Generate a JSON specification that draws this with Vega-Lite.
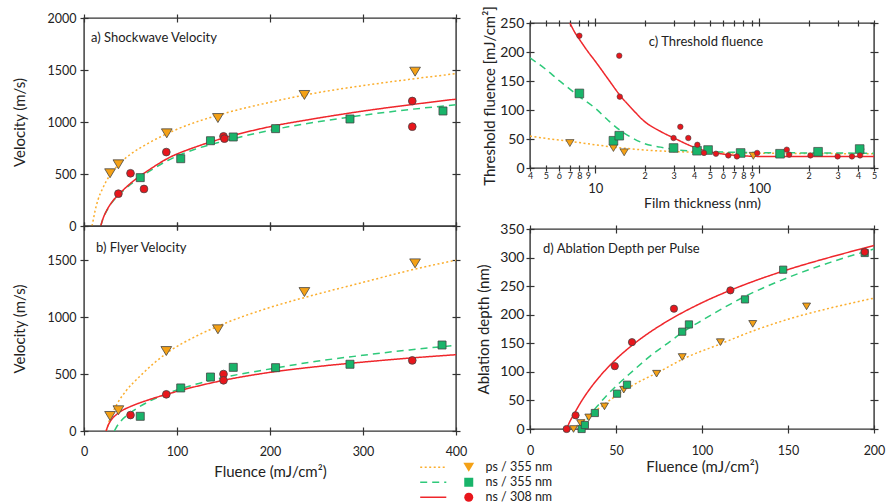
{
 "$schema": "https://vega.github.io/schema/vega-lite/v6.json",
 "padding": {"left": 11, "top": 5, "right": 0, "bottom": 0},
 "background": "white",
 "config": {
  "font": "Lato",
  "view": {"stroke": "#333", "strokeWidth": 1.4},
  "axis": {"domain": false, "grid": false, "tickColor": "#333", "tickWidth": 1.2, "tickSize": 8, "offset": -4, "labelFont": "Lato", "labelFontSize": 12.5, "labelColor": "#222", "labelPadding": 4, "labelFlush": false, "labelOverlap": false, "titleFont": "Lato", "titleFontSize": 15, "titleFontWeight": "normal", "titleColor": "#222"},
  "title": {"anchor": "start", "frame": "group", "font": "Lato", "fontSize": 13, "fontWeight": "normal", "color": "#222"}
 },
 "datasets": {
  "aLines": [
   {"F":8.6,"V":0,"s":"ps / 355 nm"},{"F":10,"V":60,"s":"ps / 355 nm"},{"F":12,"V":150,"s":"ps / 355 nm"},{"F":15,"V":250,"s":"ps / 355 nm"},{"F":20,"V":360,"s":"ps / 355 nm"},{"F":28,"V":490,"s":"ps / 355 nm"},{"F":37,"V":590,"s":"ps / 355 nm"},{"F":50,"V":690,"s":"ps / 355 nm"},{"F":70,"V":800,"s":"ps / 355 nm"},{"F":100,"V":930,"s":"ps / 355 nm"},{"F":150,"V":1080,"s":"ps / 355 nm"},{"F":200,"V":1190,"s":"ps / 355 nm"},{"F":250,"V":1280,"s":"ps / 355 nm"},{"F":300,"V":1350,"s":"ps / 355 nm"},{"F":350,"V":1410,"s":"ps / 355 nm"},{"F":400,"V":1465,"s":"ps / 355 nm"},
   {"F":18,"V":0,"s":"ns / 355 nm"},{"F":20,"V":60,"s":"ns / 355 nm"},{"F":25,"V":155,"s":"ns / 355 nm"},{"F":30,"V":225,"s":"ns / 355 nm"},{"F":37,"V":295,"s":"ns / 355 nm"},{"F":50,"V":400,"s":"ns / 355 nm"},{"F":70,"V":525,"s":"ns / 355 nm"},{"F":90,"V":630,"s":"ns / 355 nm"},{"F":120,"V":740,"s":"ns / 355 nm"},{"F":150,"V":815,"s":"ns / 355 nm"},{"F":200,"V":920,"s":"ns / 355 nm"},{"F":250,"V":1000,"s":"ns / 355 nm"},{"F":300,"V":1065,"s":"ns / 355 nm"},{"F":350,"V":1120,"s":"ns / 355 nm"},{"F":400,"V":1165,"s":"ns / 355 nm"},
   {"F":18,"V":0,"s":"ns / 308 nm"},{"F":20,"V":60,"s":"ns / 308 nm"},{"F":25,"V":160,"s":"ns / 308 nm"},{"F":30,"V":230,"s":"ns / 308 nm"},{"F":37,"V":300,"s":"ns / 308 nm"},{"F":50,"V":410,"s":"ns / 308 nm"},{"F":70,"V":540,"s":"ns / 308 nm"},{"F":90,"V":650,"s":"ns / 308 nm"},{"F":120,"V":760,"s":"ns / 308 nm"},{"F":150,"V":845,"s":"ns / 308 nm"},{"F":200,"V":955,"s":"ns / 308 nm"},{"F":250,"V":1035,"s":"ns / 308 nm"},{"F":300,"V":1105,"s":"ns / 308 nm"},{"F":350,"V":1165,"s":"ns / 308 nm"},{"F":400,"V":1220,"s":"ns / 308 nm"}
  ],
  "aPts": [
   {"F":28,"V":507,"s":"ps / 355 nm"},{"F":37,"V":593,"s":"ps / 355 nm"},{"F":89,"V":891,"s":"ps / 355 nm"},{"F":144,"V":1038,"s":"ps / 355 nm"},{"F":237,"V":1260,"s":"ps / 355 nm"},{"F":356,"V":1484,"s":"ps / 355 nm"},
   {"F":60.5,"V":465,"s":"ns / 355 nm"},{"F":104,"V":647,"s":"ns / 355 nm"},{"F":136,"V":820,"s":"ns / 355 nm"},{"F":160.5,"V":856,"s":"ns / 355 nm"},{"F":206,"V":936,"s":"ns / 355 nm"},{"F":286,"V":1029,"s":"ns / 355 nm"},{"F":386,"V":1106,"s":"ns / 355 nm"},
   {"F":37,"V":311,"s":"ns / 308 nm"},{"F":50,"V":507,"s":"ns / 308 nm"},{"F":64.5,"V":356,"s":"ns / 308 nm"},{"F":88.5,"V":711,"s":"ns / 308 nm"},{"F":150,"V":862,"s":"ns / 308 nm"},{"F":151,"V":840,"s":"ns / 308 nm"},{"F":353,"V":1202,"s":"ns / 308 nm"},{"F":353,"V":955,"s":"ns / 308 nm"}
  ],
  "bLines": [
   {"F":24,"V":0,"s":"ps / 355 nm"},{"F":28,"V":110,"s":"ps / 355 nm"},{"F":35,"V":230,"s":"ps / 355 nm"},{"F":45,"V":350,"s":"ps / 355 nm"},{"F":60,"V":480,"s":"ps / 355 nm"},{"F":90,"V":690,"s":"ps / 355 nm"},{"F":120,"V":830,"s":"ps / 355 nm"},{"F":150,"V":940,"s":"ps / 355 nm"},{"F":200,"V":1085,"s":"ps / 355 nm"},{"F":250,"V":1200,"s":"ps / 355 nm"},{"F":300,"V":1305,"s":"ps / 355 nm"},{"F":350,"V":1410,"s":"ps / 355 nm"},{"F":400,"V":1500,"s":"ps / 355 nm"},
   {"F":32.6,"V":0,"s":"ns / 355 nm"},{"F":35,"V":35,"s":"ns / 355 nm"},{"F":40,"V":90,"s":"ns / 355 nm"},{"F":50,"V":160,"s":"ns / 355 nm"},{"F":70,"V":260,"s":"ns / 355 nm"},{"F":90,"V":330,"s":"ns / 355 nm"},{"F":100,"V":360,"s":"ns / 355 nm"},{"F":120,"V":410,"s":"ns / 355 nm"},{"F":150,"V":470,"s":"ns / 355 nm"},{"F":200,"V":545,"s":"ns / 355 nm"},{"F":250,"V":612,"s":"ns / 355 nm"},{"F":300,"V":665,"s":"ns / 355 nm"},{"F":350,"V":712,"s":"ns / 355 nm"},{"F":400,"V":752,"s":"ns / 355 nm"},
   {"F":23.7,"V":0,"s":"ns / 308 nm"},{"F":26,"V":50,"s":"ns / 308 nm"},{"F":30,"V":105,"s":"ns / 308 nm"},{"F":35,"V":145,"s":"ns / 308 nm"},{"F":40,"V":175,"s":"ns / 308 nm"},{"F":50,"V":215,"s":"ns / 308 nm"},{"F":70,"V":275,"s":"ns / 308 nm"},{"F":90,"V":325,"s":"ns / 308 nm"},{"F":120,"V":390,"s":"ns / 308 nm"},{"F":150,"V":445,"s":"ns / 308 nm"},{"F":200,"V":515,"s":"ns / 308 nm"},{"F":250,"V":565,"s":"ns / 308 nm"},{"F":300,"V":605,"s":"ns / 308 nm"},{"F":350,"V":640,"s":"ns / 308 nm"},{"F":400,"V":670,"s":"ns / 308 nm"}
  ],
  "bPts": [
   {"F":28,"V":132,"s":"ps / 355 nm"},{"F":37,"V":182,"s":"ps / 355 nm"},{"F":88.5,"V":702,"s":"ps / 355 nm"},{"F":144,"V":893,"s":"ps / 355 nm"},{"F":237,"V":1220,"s":"ps / 355 nm"},{"F":356,"V":1472,"s":"ps / 355 nm"},
   {"F":60.5,"V":129,"s":"ns / 355 nm"},{"F":104,"V":378,"s":"ns / 355 nm"},{"F":136,"V":474,"s":"ns / 355 nm"},{"F":160.5,"V":559,"s":"ns / 355 nm"},{"F":206,"V":556,"s":"ns / 355 nm"},{"F":286,"V":586,"s":"ns / 355 nm"},{"F":385,"V":755,"s":"ns / 355 nm"},
   {"F":50,"V":140,"s":"ns / 308 nm"},{"F":88.5,"V":322,"s":"ns / 308 nm"},{"F":150,"V":500,"s":"ns / 308 nm"},{"F":150,"V":445,"s":"ns / 308 nm"},{"F":353,"V":620,"s":"ns / 308 nm"}
  ],
  "cLines": [
   {"t":4,"v":55,"s":"ps / 355 nm"},{"t":5,"v":51,"s":"ps / 355 nm"},{"t":7,"v":46,"s":"ps / 355 nm"},{"t":10,"v":40,"s":"ps / 355 nm"},{"t":14,"v":35,"s":"ps / 355 nm"},{"t":20,"v":31,"s":"ps / 355 nm"},{"t":30,"v":28.5,"s":"ps / 355 nm"},{"t":50,"v":26.5,"s":"ps / 355 nm"},{"t":100,"v":25.5,"s":"ps / 355 nm"},{"t":200,"v":25,"s":"ps / 355 nm"},{"t":500,"v":24.5,"s":"ps / 355 nm"},
   {"t":4,"v":190,"s":"ns / 355 nm"},{"t":5,"v":170,"s":"ns / 355 nm"},{"t":6,"v":151,"s":"ns / 355 nm"},{"t":7,"v":136,"s":"ns / 355 nm"},{"t":8,"v":123,"s":"ns / 355 nm"},{"t":10,"v":103,"s":"ns / 355 nm"},{"t":12,"v":82,"s":"ns / 355 nm"},{"t":14,"v":66,"s":"ns / 355 nm"},{"t":17,"v":51,"s":"ns / 355 nm"},{"t":20,"v":42,"s":"ns / 355 nm"},{"t":25,"v":36,"s":"ns / 355 nm"},{"t":30,"v":32,"s":"ns / 355 nm"},{"t":40,"v":29,"s":"ns / 355 nm"},{"t":50,"v":28,"s":"ns / 355 nm"},{"t":100,"v":26.5,"s":"ns / 355 nm"},{"t":200,"v":26,"s":"ns / 355 nm"},{"t":500,"v":25.5,"s":"ns / 355 nm"},
   {"t":7,"v":250,"s":"ns / 308 nm"},{"t":7.5,"v":234,"s":"ns / 308 nm"},{"t":8,"v":222,"s":"ns / 308 nm"},{"t":9,"v":201,"s":"ns / 308 nm"},{"t":10,"v":184,"s":"ns / 308 nm"},{"t":12,"v":153,"s":"ns / 308 nm"},{"t":14,"v":127,"s":"ns / 308 nm"},{"t":17,"v":100,"s":"ns / 308 nm"},{"t":20,"v":80,"s":"ns / 308 nm"},{"t":25,"v":63,"s":"ns / 308 nm"},{"t":30,"v":52,"s":"ns / 308 nm"},{"t":40,"v":36,"s":"ns / 308 nm"},{"t":50,"v":28,"s":"ns / 308 nm"},{"t":60,"v":24,"s":"ns / 308 nm"},{"t":80,"v":21,"s":"ns / 308 nm"},{"t":100,"v":20,"s":"ns / 308 nm"},{"t":200,"v":20,"s":"ns / 308 nm"},{"t":500,"v":20,"s":"ns / 308 nm"}
  ],
  "cPts": [
   {"t":7,"v":43,"s":"ps / 355 nm"},{"t":12.9,"v":34.5,"s":"ps / 355 nm"},{"t":15,"v":27,"s":"ps / 355 nm"},{"t":91.9,"v":21,"s":"ps / 355 nm"},{"t":411,"v":27,"s":"ps / 355 nm"},
   {"t":8,"v":128.6,"s":"ns / 355 nm"},{"t":12.9,"v":47,"s":"ns / 355 nm"},{"t":14,"v":55.7,"s":"ns / 355 nm"},{"t":30,"v":34.5,"s":"ns / 355 nm"},{"t":41.7,"v":29.8,"s":"ns / 355 nm"},{"t":48.7,"v":31,"s":"ns / 355 nm"},{"t":76.9,"v":25.9,"s":"ns / 355 nm"},{"t":133.7,"v":24.6,"s":"ns / 355 nm"},{"t":228,"v":28,"s":"ns / 355 nm"},{"t":409,"v":32.7,"s":"ns / 355 nm"},
   {"t":8,"v":228,"s":"ns / 308 nm"},{"t":14,"v":193.6,"s":"ns / 308 nm"},{"t":14.1,"v":123,"s":"ns / 308 nm"},{"t":30,"v":51.7,"s":"ns / 308 nm"},{"t":33,"v":71,"s":"ns / 308 nm"},{"t":36.9,"v":51.7,"s":"ns / 308 nm"},{"t":41.9,"v":40,"s":"ns / 308 nm"},{"t":46,"v":26,"s":"ns / 308 nm"},{"t":54.4,"v":24.6,"s":"ns / 308 nm"},{"t":64.7,"v":21.7,"s":"ns / 308 nm"},{"t":73,"v":20,"s":"ns / 308 nm"},{"t":97,"v":26,"s":"ns / 308 nm"},{"t":147,"v":31.6,"s":"ns / 308 nm"},{"t":152,"v":23,"s":"ns / 308 nm"},{"t":205,"v":21.7,"s":"ns / 308 nm"},{"t":300,"v":20,"s":"ns / 308 nm"},{"t":367,"v":20,"s":"ns / 308 nm"},{"t":411,"v":21.7,"s":"ns / 308 nm"}
  ],
  "dLines": [
   {"F":25,"D":0,"s":"ps / 355 nm"},{"F":28,"D":7,"s":"ps / 355 nm"},{"F":30,"D":12,"s":"ps / 355 nm"},{"F":35,"D":24,"s":"ps / 355 nm"},{"F":40,"D":36,"s":"ps / 355 nm"},{"F":50,"D":58,"s":"ps / 355 nm"},{"F":60,"D":77,"s":"ps / 355 nm"},{"F":75,"D":100,"s":"ps / 355 nm"},{"F":90,"D":124,"s":"ps / 355 nm"},{"F":110,"D":148,"s":"ps / 355 nm"},{"F":130,"D":172,"s":"ps / 355 nm"},{"F":150,"D":192,"s":"ps / 355 nm"},{"F":175,"D":212,"s":"ps / 355 nm"},{"F":200,"D":229,"s":"ps / 355 nm"},
   {"F":29,"D":0,"s":"ns / 355 nm"},{"F":32,"D":12,"s":"ns / 355 nm"},{"F":35,"D":25,"s":"ns / 355 nm"},{"F":40,"D":43,"s":"ns / 355 nm"},{"F":45,"D":60,"s":"ns / 355 nm"},{"F":50,"D":75,"s":"ns / 355 nm"},{"F":60,"D":102,"s":"ns / 355 nm"},{"F":70,"D":128,"s":"ns / 355 nm"},{"F":80,"D":150,"s":"ns / 355 nm"},{"F":90,"D":172,"s":"ns / 355 nm"},{"F":100,"D":190,"s":"ns / 355 nm"},{"F":125,"D":232,"s":"ns / 355 nm"},{"F":150,"D":265,"s":"ns / 355 nm"},{"F":175,"D":292,"s":"ns / 355 nm"},{"F":200,"D":315,"s":"ns / 355 nm"},
   {"F":21.3,"D":0,"s":"ns / 308 nm"},{"F":23,"D":12,"s":"ns / 308 nm"},{"F":25,"D":23,"s":"ns / 308 nm"},{"F":30,"D":49,"s":"ns / 308 nm"},{"F":35,"D":71,"s":"ns / 308 nm"},{"F":40,"D":90,"s":"ns / 308 nm"},{"F":50,"D":122,"s":"ns / 308 nm"},{"F":60,"D":148,"s":"ns / 308 nm"},{"F":70,"D":170,"s":"ns / 308 nm"},{"F":80,"D":189,"s":"ns / 308 nm"},{"F":100,"D":221,"s":"ns / 308 nm"},{"F":120,"D":247,"s":"ns / 308 nm"},{"F":150,"D":279,"s":"ns / 308 nm"},{"F":175,"D":301,"s":"ns / 308 nm"},{"F":200,"D":321,"s":"ns / 308 nm"}
  ],
  "dPts": [
   {"F":25.3,"D":0,"s":"ps / 355 nm"},{"F":29.4,"D":10.5,"s":"ps / 355 nm"},{"F":34.2,"D":20.3,"s":"ps / 355 nm"},{"F":43.3,"D":39.6,"s":"ps / 355 nm"},{"F":54.5,"D":68.8,"s":"ps / 355 nm"},{"F":73.6,"D":96.8,"s":"ps / 355 nm"},{"F":88.5,"D":126,"s":"ps / 355 nm"},{"F":110.7,"D":152,"s":"ps / 355 nm"},{"F":129.5,"D":184,"s":"ps / 355 nm"},{"F":160.8,"D":214.6,"s":"ps / 355 nm"},
   {"F":30,"D":0,"s":"ns / 355 nm"},{"F":31.9,"D":7,"s":"ns / 355 nm"},{"F":37.7,"D":28,"s":"ns / 355 nm"},{"F":50.6,"D":61.8,"s":"ns / 355 nm"},{"F":56.4,"D":77.5,"s":"ns / 355 nm"},{"F":88.5,"D":170.3,"s":"ns / 355 nm"},{"F":92.4,"D":183,"s":"ns / 355 nm"},{"F":125,"D":226.8,"s":"ns / 355 nm"},{"F":147.2,"D":278.8,"s":"ns / 355 nm"},{"F":194.6,"D":308,"s":"ns / 355 nm"},
   {"F":21.3,"D":0,"s":"ns / 308 nm"},{"F":26.5,"D":24,"s":"ns / 308 nm"},{"F":49.3,"D":110,"s":"ns / 308 nm"},{"F":59.3,"D":152,"s":"ns / 308 nm"},{"F":83.7,"D":210.5,"s":"ns / 308 nm"},{"F":116.5,"D":242.6,"s":"ns / 308 nm"},{"F":194.6,"D":309.8,"s":"ns / 308 nm"}
  ]
 },
 "spacing": 7,
 "hconcat": [
  {
   "spacing": 0,
   "bounds": "flush",
   "vconcat": [
    {
     "width": 372, "height": 208,
     "title": {"text": "a) Shockwave Velocity", "dx": 7, "offset": -33},
     "resolve": {"axis": {"x": "independent", "y": "independent"}},
     "layer": [
      {"data": {"name": "aLines"}, "mark": {"type": "line", "strokeWidth": 1.5, "interpolate": "monotone", "clip": true},
       "encoding": {
        "x": {"field": "F", "type": "quantitative", "scale": {"domain": [0, 400], "nice": false, "zero": false}, "axis": {"orient": "bottom", "values": [0, 100, 200, 300, 400], "labels": false, "title": null}},
        "y": {"field": "V", "type": "quantitative", "scale": {"domain": [0, 2000], "nice": false}, "axis": {"orient": "left", "values": [0, 500, 1000, 1500, 2000], "format": "d", "title": "Velocity (m/s)", "titlePadding": 20}},
        "stroke": {"field": "s", "type": "nominal", "sort": "descending", "scale": {"range": ["#FBAE2E", "#2EC97A", "#EF262B"]}, "legend": {"orient": "none", "legendX": 343, "legendY": 443, "title": null, "symbolType": "M-2.9,0H2.9", "symbolSize": 81, "symbolStrokeWidth": 1.5, "labelExpr": "' '", "labelFont": "Lato", "labelFontSize": 12.5, "rowPadding": 2, "padding": 0, "labelOffset": 10.5}},
        "strokeDash": {"field": "s", "type": "nominal", "sort": "descending", "scale": {"range": [[2, 2.5], [7, 5], [1, 0]]}, "legend": {"orient": "none", "legendX": 343, "legendY": 443, "title": null, "symbolType": "M-2.9,0H2.9", "symbolSize": 81, "symbolStrokeWidth": 1.5, "labelExpr": "' '", "labelFont": "Lato", "labelFontSize": 12.5, "rowPadding": 2, "padding": 0, "labelOffset": 10.5}}
       }},
      {"data": {"name": "aPts"}, "transform": [{"filter": "datum.s == 'ps / 355 nm'"}], "mark": {"type": "point", "filled": true, "stroke": "#444", "strokeWidth": 0.8, "size": 80, "opacity": 1},
       "encoding": {
        "x": {"field": "F", "type": "quantitative", "scale": {"domain": [0, 400], "nice": false, "zero": false}, "axis": {"orient": "top", "values": [0, 100, 200, 300, 400], "labels": false, "title": null}},
        "y": {"field": "V", "type": "quantitative", "scale": {"domain": [0, 2000], "nice": false}, "axis": {"orient": "right", "values": [0, 500, 1000, 1500, 2000], "labels": false, "title": null}},
        "fill": {"field": "s", "type": "nominal", "scale": {"domain": ["ps / 355 nm", "ns / 355 nm", "ns / 308 nm"], "range": ["#F4A116", "#19B46A", "#E8161C"]}, "legend": {"orient": "none", "legendX": 378.5, "legendY": 443, "title": null, "symbolSize": 81, "symbolStrokeColor": "#444", "symbolStrokeWidth": 0.8, "labelFont": "Lato", "labelFontSize": 12.5, "labelColor": "#222", "rowPadding": 2, "padding": 0, "labelOffset": 10.5}},
        "shape": {"field": "s", "type": "nominal", "scale": {"domain": ["ps / 355 nm", "ns / 355 nm", "ns / 308 nm"], "range": ["M-1.2,-1L1.2,-1L0,1Z", "square", "circle"]}, "legend": {"orient": "none", "legendX": 378.5, "legendY": 443, "title": null, "symbolSize": 81, "symbolStrokeColor": "#444", "symbolStrokeWidth": 0.8, "labelFont": "Lato", "labelFontSize": 12.5, "labelColor": "#222", "rowPadding": 2, "padding": 0, "labelOffset": 10.5}}
       }},
      {"data": {"name": "aPts"}, "transform": [{"filter": "datum.s == 'ns / 355 nm'"}], "mark": {"type": "point", "filled": true, "stroke": "#444", "strokeWidth": 0.8, "size": 64, "opacity": 1},
       "encoding": {
        "x": {"field": "F", "type": "quantitative", "scale": {"domain": [0, 400], "nice": false, "zero": false}, "axis": null},
        "y": {"field": "V", "type": "quantitative", "scale": {"domain": [0, 2000], "nice": false}, "axis": null},
        "fill": {"field": "s", "type": "nominal", "scale": {"domain": ["ps / 355 nm", "ns / 355 nm", "ns / 308 nm"], "range": ["#F4A116", "#19B46A", "#E8161C"]}},
        "shape": {"field": "s", "type": "nominal", "scale": {"domain": ["ps / 355 nm", "ns / 355 nm", "ns / 308 nm"], "range": ["M-1.2,-1L1.2,-1L0,1Z", "square", "circle"]}}
       }},
      {"data": {"name": "aPts"}, "transform": [{"filter": "datum.s == 'ns / 308 nm'"}], "mark": {"type": "point", "filled": true, "stroke": "#444", "strokeWidth": 0.8, "size": 60, "opacity": 1},
       "encoding": {
        "x": {"field": "F", "type": "quantitative", "scale": {"domain": [0, 400], "nice": false, "zero": false}, "axis": null},
        "y": {"field": "V", "type": "quantitative", "scale": {"domain": [0, 2000], "nice": false}, "axis": null},
        "fill": {"field": "s", "type": "nominal", "scale": {"domain": ["ps / 355 nm", "ns / 355 nm", "ns / 308 nm"], "range": ["#F4A116", "#19B46A", "#E8161C"]}},
        "shape": {"field": "s", "type": "nominal", "scale": {"domain": ["ps / 355 nm", "ns / 355 nm", "ns / 308 nm"], "range": ["M-1.2,-1L1.2,-1L0,1Z", "square", "circle"]}}
       }}
     ]
    },
    {
     "width": 372, "height": 205,
     "title": {"text": "b) Flyer Velocity", "dx": 12, "offset": -33.5},
     "resolve": {"axis": {"x": "independent", "y": "independent"}},
     "layer": [
      {"data": {"name": "bLines"}, "mark": {"type": "line", "strokeWidth": 1.5, "interpolate": "monotone", "clip": true},
       "encoding": {
        "x": {"field": "F", "type": "quantitative", "scale": {"domain": [0, 400], "nice": false, "zero": false}, "axis": {"orient": "bottom", "values": [0, 100, 200, 300, 400], "labelPadding": 10, "title": "Fluence (mJ/cm²)", "titlePadding": 7}},
        "y": {"field": "V", "type": "quantitative", "scale": {"domain": [0, 1800], "nice": false}, "axis": {"orient": "left", "values": [0, 500, 1000, 1500], "format": "d", "title": "Velocity (m/s)", "titlePadding": 20}},
        "stroke": {"field": "s", "type": "nominal", "sort": "descending", "scale": {"range": ["#FBAE2E", "#2EC97A", "#EF262B"]}},
        "strokeDash": {"field": "s", "type": "nominal", "sort": "descending", "scale": {"range": [[2, 2.5], [7, 5], [1, 0]]}}
       }},
      {"data": {"name": "bPts"}, "transform": [{"filter": "datum.s == 'ps / 355 nm'"}], "mark": {"type": "point", "filled": true, "stroke": "#444", "strokeWidth": 0.8, "size": 80, "opacity": 1},
       "encoding": {
        "x": {"field": "F", "type": "quantitative", "scale": {"domain": [0, 400], "nice": false, "zero": false}, "axis": {"orient": "top", "values": [0, 100, 200, 300, 400], "labels": false, "title": null}},
        "y": {"field": "V", "type": "quantitative", "scale": {"domain": [0, 1800], "nice": false}, "axis": {"orient": "right", "values": [0, 500, 1000, 1500], "labels": false, "title": null}},
        "fill": {"field": "s", "type": "nominal", "scale": {"domain": ["ps / 355 nm", "ns / 355 nm", "ns / 308 nm"], "range": ["#F4A116", "#19B46A", "#E8161C"]}},
        "shape": {"field": "s", "type": "nominal", "scale": {"domain": ["ps / 355 nm", "ns / 355 nm", "ns / 308 nm"], "range": ["M-1.2,-1L1.2,-1L0,1Z", "square", "circle"]}}
       }},
      {"data": {"name": "bPts"}, "transform": [{"filter": "datum.s == 'ns / 355 nm'"}], "mark": {"type": "point", "filled": true, "stroke": "#444", "strokeWidth": 0.8, "size": 64, "opacity": 1},
       "encoding": {
        "x": {"field": "F", "type": "quantitative", "scale": {"domain": [0, 400], "nice": false, "zero": false}, "axis": null},
        "y": {"field": "V", "type": "quantitative", "scale": {"domain": [0, 1800], "nice": false}, "axis": null},
        "fill": {"field": "s", "type": "nominal", "scale": {"domain": ["ps / 355 nm", "ns / 355 nm", "ns / 308 nm"], "range": ["#F4A116", "#19B46A", "#E8161C"]}},
        "shape": {"field": "s", "type": "nominal", "scale": {"domain": ["ps / 355 nm", "ns / 355 nm", "ns / 308 nm"], "range": ["M-1.2,-1L1.2,-1L0,1Z", "square", "circle"]}}
       }},
      {"data": {"name": "bPts"}, "transform": [{"filter": "datum.s == 'ns / 308 nm'"}], "mark": {"type": "point", "filled": true, "stroke": "#444", "strokeWidth": 0.8, "size": 60, "opacity": 1},
       "encoding": {
        "x": {"field": "F", "type": "quantitative", "scale": {"domain": [0, 400], "nice": false, "zero": false}, "axis": null},
        "y": {"field": "V", "type": "quantitative", "scale": {"domain": [0, 1800], "nice": false}, "axis": null},
        "fill": {"field": "s", "type": "nominal", "scale": {"domain": ["ps / 355 nm", "ns / 355 nm", "ns / 308 nm"], "range": ["#F4A116", "#19B46A", "#E8161C"]}},
        "shape": {"field": "s", "type": "nominal", "scale": {"domain": ["ps / 355 nm", "ns / 355 nm", "ns / 308 nm"], "range": ["M-1.2,-1L1.2,-1L0,1Z", "square", "circle"]}}
       }}
     ]
    }
   ]
  },
  {
   "spacing": 0,
   "bounds": "flush",
   "vconcat": [
    {"width": 344, "height": 5, "data": {"values": []}, "mark": "point", "view": {"stroke": null}},
    {
     "spacing": 61,
     "bounds": "flush",
     "vconcat": [
      {
       "width": 344, "height": 145,
       "title": {"text": "c) Threshold fluence", "anchor": "middle", "dx": 4, "offset": -43},
       "resolve": {"axis": {"x": "independent", "y": "independent"}},
       "layer": [
        {"data": {"name": "cLines"}, "mark": {"type": "line", "strokeWidth": 1.5, "interpolate": "monotone", "clip": true},
         "encoding": {
          "x": {"field": "t", "type": "quantitative", "scale": {"type": "log", "domain": [4, 500], "nice": false}, "axis": {"orient": "bottom", "offset": -3, "values": [4, 5, 6, 7, 8, 9, 10, 20, 30, 40, 50, 60, 70, 80, 90, 100, 200, 300, 400, 500], "labelExpr": "datum.value == 10 || datum.value == 100 ? datum.value + '' : substring(datum.value + '', 0, 1)", "labelFontSize": {"condition": {"test": "datum.value == 10 || datum.value == 100", "value": 13}, "value": 9}, "labelPadding": {"condition": {"test": "datum.value == 10 || datum.value == 100", "value": 9.5}, "value": 0}, "tickSize": {"condition": {"test": "datum.value == 10 || datum.value == 100", "value": 8}, "value": 6}, "title": "Film thickness (nm)", "titleFontSize": 14, "titlePadding": 1}},
          "y": {"field": "v", "type": "quantitative", "scale": {"domain": [0, 250], "nice": false}, "axis": {"orient": "left", "values": [0, 50, 100, 150, 200, 250], "labelFontSize": 14, "labelPadding": 2, "title": "Threshold fluence [mJ/cm²]", "titlePadding": 2}},
          "stroke": {"field": "s", "type": "nominal", "sort": "descending", "scale": {"range": ["#FBAE2E", "#2EC97A", "#EF262B"]}},
          "strokeDash": {"field": "s", "type": "nominal", "sort": "descending", "scale": {"range": [[2, 2.5], [7, 5], [1, 0]]}}
         }},
        {"data": {"name": "cPts"}, "transform": [{"filter": "datum.s == 'ps / 355 nm'"}], "mark": {"type": "point", "filled": true, "stroke": "#444", "strokeWidth": 0.7, "size": 48, "opacity": 1},
         "encoding": {
          "x": {"field": "t", "type": "quantitative", "scale": {"type": "log", "domain": [4, 500], "nice": false}, "axis": {"orient": "top", "offset": -3, "values": [4, 5, 6, 7, 8, 9, 10, 20, 30, 40, 50, 60, 70, 80, 90, 100, 200, 300, 400, 500], "labels": false, "tickSize": {"condition": {"test": "datum.value == 10 || datum.value == 100", "value": 8}, "value": 6}, "title": null}},
          "y": {"field": "v", "type": "quantitative", "scale": {"domain": [0, 250], "nice": false}, "axis": {"orient": "right", "values": [0, 50, 100, 150, 200, 250], "labels": false, "title": null}},
          "fill": {"field": "s", "type": "nominal", "scale": {"domain": ["ps / 355 nm", "ns / 355 nm", "ns / 308 nm"], "range": ["#F4A116", "#19B46A", "#E8161C"]}},
          "shape": {"field": "s", "type": "nominal", "scale": {"domain": ["ps / 355 nm", "ns / 355 nm", "ns / 308 nm"], "range": ["M-1.2,-1L1.2,-1L0,1Z", "square", "circle"]}}
         }},
        {"data": {"name": "cPts"}, "transform": [{"filter": "datum.s == 'ns / 355 nm'"}], "mark": {"type": "point", "filled": true, "stroke": "#444", "strokeWidth": 0.7, "size": 75, "opacity": 1},
         "encoding": {
          "x": {"field": "t", "type": "quantitative", "scale": {"type": "log", "domain": [4, 500], "nice": false}, "axis": null},
          "y": {"field": "v", "type": "quantitative", "scale": {"domain": [0, 250], "nice": false}, "axis": null},
          "fill": {"field": "s", "type": "nominal", "scale": {"domain": ["ps / 355 nm", "ns / 355 nm", "ns / 308 nm"], "range": ["#F4A116", "#19B46A", "#E8161C"]}},
          "shape": {"field": "s", "type": "nominal", "scale": {"domain": ["ps / 355 nm", "ns / 355 nm", "ns / 308 nm"], "range": ["M-1.2,-1L1.2,-1L0,1Z", "square", "circle"]}}
         }},
        {"data": {"name": "cPts"}, "transform": [{"filter": "datum.s == 'ns / 308 nm'"}], "mark": {"type": "point", "filled": true, "stroke": "#444", "strokeWidth": 0.6, "size": 30, "opacity": 1},
         "encoding": {
          "x": {"field": "t", "type": "quantitative", "scale": {"type": "log", "domain": [4, 500], "nice": false}, "axis": null},
          "y": {"field": "v", "type": "quantitative", "scale": {"domain": [0, 250], "nice": false}, "axis": null},
          "fill": {"field": "s", "type": "nominal", "scale": {"domain": ["ps / 355 nm", "ns / 355 nm", "ns / 308 nm"], "range": ["#F4A116", "#19B46A", "#E8161C"]}},
          "shape": {"field": "s", "type": "nominal", "scale": {"domain": ["ps / 355 nm", "ns / 355 nm", "ns / 308 nm"], "range": ["M-1.2,-1L1.2,-1L0,1Z", "square", "circle"]}}
         }}
       ]
      },
      {
       "width": 344, "height": 200,
       "title": {"text": "d) Ablation Depth per Pulse", "dx": 13, "offset": -33.5},
       "resolve": {"axis": {"x": "independent", "y": "independent"}},
       "layer": [
        {"data": {"name": "dLines"}, "mark": {"type": "line", "strokeWidth": 1.5, "interpolate": "monotone", "clip": true},
         "encoding": {
          "x": {"field": "F", "type": "quantitative", "scale": {"domain": [0, 200], "nice": false, "zero": false}, "axis": {"orient": "bottom", "values": [0, 50, 100, 150, 200], "labelPadding": 11, "title": "Fluence (mJ/cm²)", "titlePadding": 3}},
          "y": {"field": "D", "type": "quantitative", "scale": {"domain": [0, 350], "nice": false}, "axis": {"orient": "left", "values": [0, 50, 100, 150, 200, 250, 300, 350], "labelFontSize": 14, "labelPadding": 2, "title": "Ablation depth (nm)", "titlePadding": 8}},
          "stroke": {"field": "s", "type": "nominal", "sort": "descending", "scale": {"range": ["#FBAE2E", "#2EC97A", "#EF262B"]}},
          "strokeDash": {"field": "s", "type": "nominal", "sort": "descending", "scale": {"range": [[2, 2.5], [7, 5], [1, 0]]}}
         }},
        {"data": {"name": "dPts"}, "transform": [{"filter": "datum.s == 'ps / 355 nm'"}], "mark": {"type": "point", "filled": true, "stroke": "#444", "strokeWidth": 0.8, "size": 44, "opacity": 1},
         "encoding": {
          "x": {"field": "F", "type": "quantitative", "scale": {"domain": [0, 200], "nice": false, "zero": false}, "axis": {"orient": "top", "values": [0, 50, 100, 150, 200], "labels": false, "title": null}},
          "y": {"field": "D", "type": "quantitative", "scale": {"domain": [0, 350], "nice": false}, "axis": {"orient": "right", "values": [0, 50, 100, 150, 200, 250, 300, 350], "labels": false, "title": null}},
          "fill": {"field": "s", "type": "nominal", "scale": {"domain": ["ps / 355 nm", "ns / 355 nm", "ns / 308 nm"], "range": ["#F4A116", "#19B46A", "#E8161C"]}},
          "shape": {"field": "s", "type": "nominal", "scale": {"domain": ["ps / 355 nm", "ns / 355 nm", "ns / 308 nm"], "range": ["M-1.2,-1L1.2,-1L0,1Z", "square", "circle"]}}
         }},
        {"data": {"name": "dPts"}, "transform": [{"filter": "datum.s == 'ns / 355 nm'"}], "mark": {"type": "point", "filled": true, "stroke": "#444", "strokeWidth": 0.8, "size": 52, "opacity": 1},
         "encoding": {
          "x": {"field": "F", "type": "quantitative", "scale": {"domain": [0, 200], "nice": false, "zero": false}, "axis": null},
          "y": {"field": "D", "type": "quantitative", "scale": {"domain": [0, 350], "nice": false}, "axis": null},
          "fill": {"field": "s", "type": "nominal", "scale": {"domain": ["ps / 355 nm", "ns / 355 nm", "ns / 308 nm"], "range": ["#F4A116", "#19B46A", "#E8161C"]}},
          "shape": {"field": "s", "type": "nominal", "scale": {"domain": ["ps / 355 nm", "ns / 355 nm", "ns / 308 nm"], "range": ["M-1.2,-1L1.2,-1L0,1Z", "square", "circle"]}}
         }},
        {"data": {"name": "dPts"}, "transform": [{"filter": "datum.s == 'ns / 308 nm'"}], "mark": {"type": "point", "filled": true, "stroke": "#444", "strokeWidth": 0.8, "size": 52, "opacity": 1},
         "encoding": {
          "x": {"field": "F", "type": "quantitative", "scale": {"domain": [0, 200], "nice": false, "zero": false}, "axis": null},
          "y": {"field": "D", "type": "quantitative", "scale": {"domain": [0, 350], "nice": false}, "axis": null},
          "fill": {"field": "s", "type": "nominal", "scale": {"domain": ["ps / 355 nm", "ns / 355 nm", "ns / 308 nm"], "range": ["#F4A116", "#19B46A", "#E8161C"]}},
          "shape": {"field": "s", "type": "nominal", "scale": {"domain": ["ps / 355 nm", "ns / 355 nm", "ns / 308 nm"], "range": ["M-1.2,-1L1.2,-1L0,1Z", "square", "circle"]}}
         }}
       ]
      }
     ]
    }
   ]
  }
 ]
}
